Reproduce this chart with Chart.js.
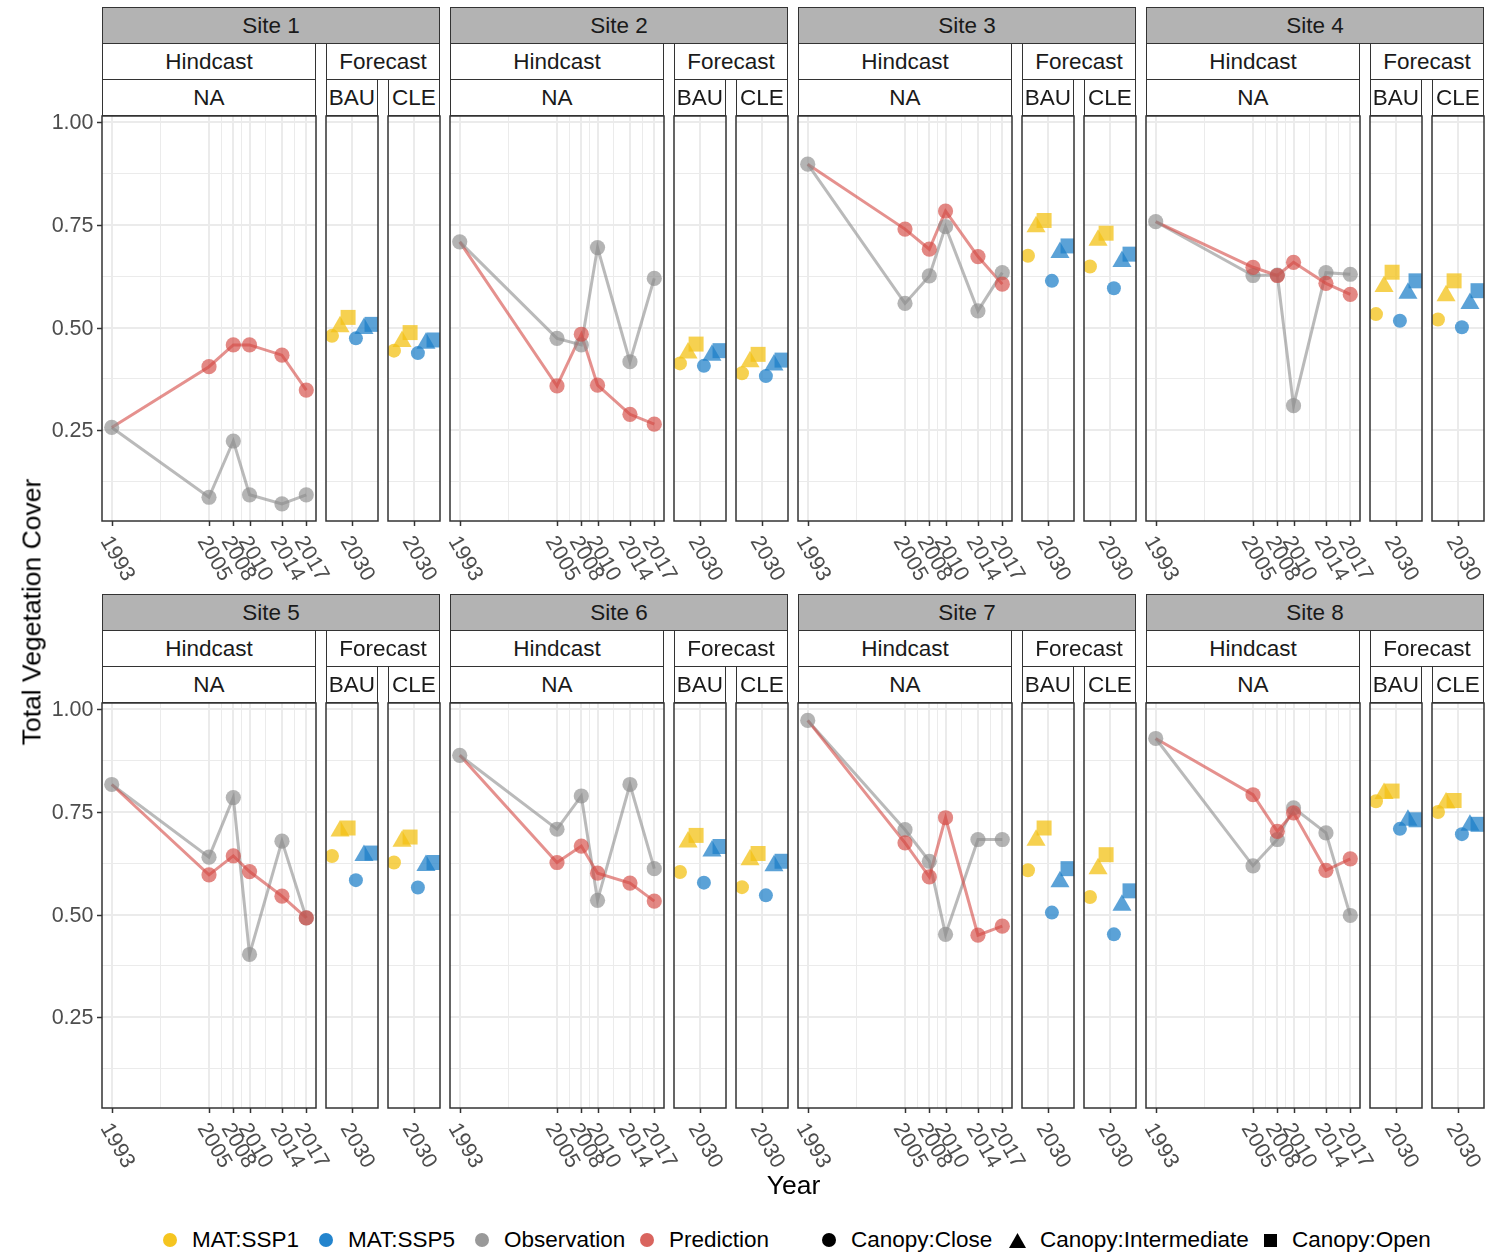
<!DOCTYPE html>
<html>
<head>
<meta charset="utf-8">
<script src="https://cdn.jsdelivr.net/npm/chart.js@4.4.0/dist/chart.umd.min.js"></script>
<style>
  body { margin: 0; background: #fff; font-family: "Liberation Sans", Arial, sans-serif; }
  #fig { position: relative; width: 1498px; height: 1252px; overflow: hidden; }
  #fig canvas { position: absolute; }
  .strip { position: absolute; box-sizing: border-box; border: 1px solid #333; background: #fff;
           color: #1a1a1a; font-size: 22.5px; text-align: center; white-space: nowrap; overflow: hidden; }
  .strip.site { background: #b3b3b3; }
  .title { position: absolute; transform: translate(-50%, -50%); font-size: 26.5px; color: #000; white-space: nowrap; }
  #legend { position: absolute; left: 163px; top: 1225px; height: 30px; display: flex; align-items: center;
            font-size: 22.5px; color: #000; white-space: nowrap; }
  #legend .item { display: flex; align-items: center; flex: none; }
  #legend .key { display: inline-block; width: 14px; height: 14px; margin-right: 15px; flex: none; }
  #legend .dot { border-radius: 50%; }
</style>
</head>
<body>
<div id="fig"></div>
<script>
const sites = ['Site 1', 'Site 2', 'Site 3', 'Site 4', 'Site 5', 'Site 6', 'Site 7', 'Site 8'];
const hindcastYears = [1993, 2005, 2008, 2010, 2014, 2017];
const forecastYear = 2030;
const scenarios = ['BAU', 'CLE'];
const canopyLevels = ['Close', 'Intermediate', 'Open'];
const yBreaks = [0.25, 0.50, 0.75, 1.00];

// observed cover per site, one value per hindcast year
const observation = [
  [0.257, 0.087, 0.224, 0.093, 0.071, 0.093],
  [0.709, 0.474, 0.458, 0.695, 0.417, 0.620],
  [0.898, 0.559, 0.626, 0.746, 0.541, 0.634],
  [0.758, 0.627, 0.628, 0.310, 0.634, 0.630],
  [0.817, 0.640, 0.785, 0.403, 0.679, 0.492],
  [0.888, 0.708, 0.789, 0.535, 0.817, 0.612],
  [0.973, 0.707, 0.630, 0.452, 0.683, 0.683],
  [0.929, 0.619, 0.683, 0.760, 0.699, 0.498]
];
// predicted cover, 1993 is the starting observation (line only)
const prediction = [
  [0.257, 0.405, 0.458, 0.458, 0.433, 0.348],
  [0.709, 0.358, 0.484, 0.360, 0.289, 0.265],
  [0.898, 0.740, 0.691, 0.784, 0.673, 0.606],
  [0.758, 0.647, 0.627, 0.659, 0.608, 0.581],
  [0.817, 0.597, 0.643, 0.605, 0.545, 0.492],
  [0.888, 0.627, 0.667, 0.601, 0.577, 0.533],
  [0.973, 0.675, 0.592, 0.736, 0.450, 0.472],
  [0.929, 0.792, 0.703, 0.748, 0.608, 0.636]
];
// 2030 forecasts, [Close, Intermediate, Open] canopy
const bauSSP1 = [
  [0.480, 0.502, 0.525], [0.413, 0.438, 0.460], [0.675, 0.746, 0.761], [0.533, 0.600, 0.635],
  [0.643, 0.704, 0.711], [0.604, 0.677, 0.693], [0.608, 0.681, 0.711], [0.776, 0.795, 0.801]
];
const bauSSP5 = [
  [0.474, 0.498, 0.508], [0.407, 0.433, 0.444], [0.614, 0.683, 0.699], [0.517, 0.584, 0.614],
  [0.584, 0.644, 0.650], [0.578, 0.655, 0.666], [0.505, 0.580, 0.612], [0.709, 0.730, 0.731]
];
const cleSSP1 = [
  [0.444, 0.466, 0.488], [0.389, 0.417, 0.435], [0.649, 0.713, 0.730], [0.520, 0.578, 0.614],
  [0.627, 0.679, 0.689], [0.567, 0.634, 0.649], [0.543, 0.612, 0.646], [0.750, 0.772, 0.778]
];
const cleSSP5 = [
  [0.438, 0.462, 0.470], [0.382, 0.409, 0.421], [0.596, 0.661, 0.679], [0.501, 0.559, 0.590],
  [0.566, 0.620, 0.627], [0.547, 0.619, 0.630], [0.452, 0.523, 0.558], [0.696, 0.718, 0.720]
];

// styling
const GREY = 'rgba(140,140,140,0.65)', GREY_LN = 'rgba(140,140,140,0.6)';
const RED = 'rgba(212,72,66,0.65)', RED_LN = 'rgba(212,72,66,0.6)';
const YELLOW = 'rgba(243,193,22,0.75)', BLUE = 'rgba(28,126,200,0.72)';
const SHAPES = ['circle', 'triangle', 'rect'];
const SHAPE_R = [7, 11, 10.6];
const DODGE = [-0.77, -0.46, -0.15, 0.15, 0.46, 0.77];

const ROW_TOP = [116, 703];
const PANEL_H = 405;
const Y_MIN = 0.0292, Y_MAX = 1.0154;
const PAD = { left: 70, right: 45, top: 4, bottom: 75 };
const FONT = '"Liberation Sans", Arial, sans-serif';
const yGrid = [0.125, 0.25, 0.375, 0.5, 0.625, 0.75, 0.875, 1.0];

const fig = document.getElementById('fig');

// border, tick marks and rotated tick labels
const decor = {
  id: 'decor',
  afterDraw(chart, args, opts) {
    const { ctx, chartArea: a, scales: { x, y } } = chart;
    ctx.save();
    ctx.strokeStyle = '#333';
    ctx.lineWidth = 1.5;
    ctx.strokeRect(a.left, a.top, a.right - a.left, a.bottom - a.top);
    ctx.font = '21.5px ' + FONT;
    ctx.fillStyle = '#4d4d4d';
    opts.xTicks.forEach(v => {
      const px = Math.round(x.getPixelForValue(v)) + 0.5;
      ctx.beginPath();
      ctx.moveTo(px, a.bottom);
      ctx.lineTo(px, a.bottom + 5);
      ctx.stroke();
      ctx.save();
      ctx.translate(px - 12.5, a.bottom + 20);
      ctx.rotate(Math.PI / 3);
      ctx.textAlign = 'left';
      ctx.textBaseline = 'alphabetic';
      ctx.fillText(String(v), 0, 0);
      ctx.restore();
    });
    if (opts.yAxis) {
      yBreaks.forEach(v => {
        const py = Math.round(y.getPixelForValue(v)) + 0.5;
        ctx.beginPath();
        ctx.moveTo(a.left - 5, py);
        ctx.lineTo(a.left, py);
        ctx.stroke();
        ctx.textAlign = 'right';
        ctx.textBaseline = 'middle';
        ctx.fillText(v.toFixed(2), a.left - 8.5, py + 1);
      });
    }
    ctx.restore();
  }
};

function scaleOpts(min, max, gridVals, majorVals) {
  return {
    type: 'linear', min: min, max: max,
    afterBuildTicks: s => { s.ticks = gridVals.map(v => ({ value: v })); },
    ticks: { display: false },
    border: { display: false },
    grid: {
      color: '#ebebeb', drawTicks: false,
      lineWidth: c => (c.tick && majorVals.includes(c.tick.value)) ? 2 : 1
    }
  };
}

function makePanel(left, top, width, datasets, xScale, decorOpts) {
  const cv = document.createElement('canvas');
  cv.width = width + PAD.left + PAD.right;
  cv.height = PANEL_H + PAD.top + PAD.bottom;
  cv.style.left = (left - PAD.left) + 'px';
  cv.style.top = (top - PAD.top) + 'px';
  fig.appendChild(cv);
  return new Chart(cv, {
    type: 'scatter',
    data: { datasets: datasets },
    options: {
      responsive: false, animation: false, devicePixelRatio: 1, events: [],
      layout: { padding: PAD, autoPadding: false },
      plugins: { legend: { display: false }, tooltip: { enabled: false }, decor: decorOpts },
      scales: { x: xScale, y: scaleOpts(Y_MIN, Y_MAX, yGrid, yBreaks) }
    },
    plugins: [decor]
  });
}

function strip(cls, text, left, top, width, height) {
  const d = document.createElement('div');
  d.className = 'strip ' + cls;
  d.textContent = text;
  Object.assign(d.style, { left: left + 'px', top: top + 'px', width: width + 'px', height: height + 'px', lineHeight: (height - 2) + 'px' });
  fig.appendChild(d);
}

const hindMinor = [1999, 2006.5, 2009, 2012, 2015.5];
const forecastSets = [[bauSSP1, bauSSP5], [cleSSP1, cleSSP5]];

sites.forEach((name, s) => {
  const col = s % 4, row = Math.floor(s / 4);
  const left = 102 + 348 * col, top = ROW_TOP[row];

  strip('site', name, left, top - 109, 338, 37);
  strip('', 'Hindcast', left, top - 73, 214, 37);
  strip('', 'Forecast', left + 224, top - 73, 114, 37);
  strip('', 'NA', left, top - 37, 214, 37);
  scenarios.forEach((sc, k) => strip('', sc, left + 224 + 62 * k, top - 37, 52, 37));

  // hindcast panel
  const obsPts = hindcastYears.map((yr, i) => ({ x: yr, y: observation[s][i] }));
  const predPts = hindcastYears.map((yr, i) => ({ x: yr, y: prediction[s][i] }));
  const dot = { showLine: false, pointRadius: 7.6, pointBorderWidth: 0, clip: 0 };
  const line = { showLine: true, pointRadius: 0, borderWidth: 3, tension: 0, clip: 0 };
  makePanel(left, top, 214, [
    Object.assign({ label: 'Prediction', data: predPts.slice(1), pointBackgroundColor: RED }, dot),
    Object.assign({ label: 'Observation', data: obsPts, pointBackgroundColor: GREY }, dot),
    Object.assign({ data: predPts, borderColor: RED_LN }, line),
    Object.assign({ data: obsPts, borderColor: GREY_LN }, line)
  ], scaleOpts(1991.8, 2018.2, hindcastYears.concat(hindMinor), hindcastYears),
  { xTicks: hindcastYears, yAxis: col === 0 });

  // forecast panels (BAU, CLE)
  forecastSets.forEach(([ssp1, ssp5], k) => {
    const mk = (vals, off, color, label) => ({
      label: label,
      data: vals[s].map((v, i) => ({ x: forecastYear + DODGE[off + i], y: v })),
      showLine: false, pointStyle: SHAPES, pointRadius: SHAPE_R,
      pointBackgroundColor: color, pointBorderWidth: 0, clip: 0
    });
    makePanel(left + 224 + 62 * k, top, 52, [
      mk(ssp5, 3, BLUE, 'MAT:SSP5'),
      mk(ssp1, 0, YELLOW, 'MAT:SSP1')
    ], scaleOpts(forecastYear - 1, forecastYear + 1, [forecastYear], [forecastYear]),
    { xTicks: [forecastYear], yAxis: false });
  });
});

// axis titles
const yTitle = document.createElement('div');
yTitle.className = 'title';
yTitle.textContent = 'Total Vegetation Cover';
Object.assign(yTitle.style, { left: '32px', top: '612px', transform: 'translate(-50%, -50%) rotate(-90deg)' });
fig.appendChild(yTitle);
const xTitle = document.createElement('div');
xTitle.className = 'title';
xTitle.textContent = 'Year';
Object.assign(xTitle.style, { left: '793.5px', top: '1185px' });
fig.appendChild(xTitle);

// legend: colour keys then shape keys
const legend = document.createElement('div');
legend.id = 'legend';
const colourKeys = [['MAT:SSP1', '#f5c520'], ['MAT:SSP5', '#2384cd'], ['Observation', '#999999'], ['Prediction', '#d9645e']];
const itemWidths = [156, 156, 165, 182, 188, 254, 180];
const shapeSvg = {
  Close: '<svg class="key" viewBox="0 0 14 14"><circle cx="7" cy="7" r="7" fill="#000"/></svg>',
  Intermediate: '<svg class="key" style="width:17px;height:15px;margin-left:-1px;margin-right:14px" viewBox="0 0 17 15"><polygon points="8.5,0 17,15 0,15" fill="#000"/></svg>',
  Open: '<svg class="key" style="width:13px;height:13px" viewBox="0 0 13 13"><rect width="13" height="13" fill="#000"/></svg>'
};
let html = '';
colourKeys.forEach(([lab, col], i) => {
  html += '<span class="item" style="width:' + itemWidths[i] + 'px"><span class="key dot" style="background:' + col + '"></span><span>' + lab + '</span></span>';
});
canopyLevels.forEach((c, i) => {
  html += '<span class="item" style="width:' + itemWidths[4 + i] + 'px">' + shapeSvg[c] + '<span>Canopy:' + c + '</span></span>';
});
legend.innerHTML = html;
fig.appendChild(legend);
</script>
</body>
</html>
